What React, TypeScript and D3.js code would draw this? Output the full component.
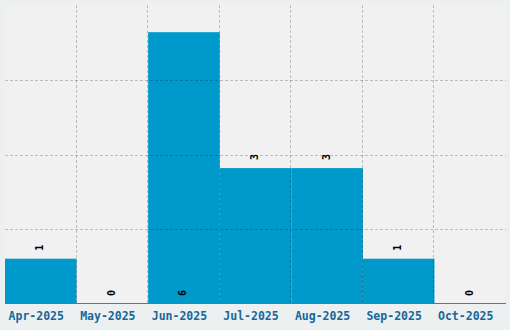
import React from "react";
import * as d3 from "d3";

const categories = ["Apr-2025", "May-2025", "Jun-2025", "Jul-2025", "Aug-2025", "Sep-2025", "Oct-2025"];
const values = [1, 0, 6, 3, 3, 1, 0];

const W = 510;
const H = 330;
const plot = { left: 5, top: 5, right: 506, bottom: 304 };

export default function App() {
  const maxV = d3.max(values) as number;
  const x = d3.scaleBand<string>().domain(categories).range([plot.left, plot.right]).padding(0);
  const y = d3.scaleLinear().domain([0, maxV * 1.1]).range([plot.bottom, plot.top]);
  const yGrid = d3.range(1, 4).map((k) => (maxV * 1.1 * k) / 4);
  const xGrid = categories.slice(1).map((c) => x(c) as number);
  const font = "'DejaVu Sans Mono', monospace";
  const gridStroke = "rgba(0,0,0,0.22)";
  return (
    <svg width={W} height={H} style={{ position: "fixed", left: 0, top: 0 }}>
      <rect x={0} y={0} width={W} height={H} fill="#ecf0f1" />
      <rect x={plot.left} y={plot.top} width={plot.right - plot.left} height={plot.bottom - plot.top} fill="#f1f1f1" />
      {categories.map((c, i) => (
        <rect key={c} x={x(c)} y={y(values[i])} width={x.bandwidth()} height={plot.bottom - y(values[i])} fill="#0099cc" />
      ))}
      <line x1={plot.left} x2={plot.right} y1={plot.bottom - 0.5} y2={plot.bottom - 0.5} stroke="#0099cc" strokeWidth={1} />
      {yGrid.map((g, i) => (
        <line key={"h" + i} x1={plot.left} x2={plot.right} y1={Math.round(y(g)) + 0.5} y2={Math.round(y(g)) + 0.5} stroke={gridStroke} strokeDasharray="3,2" />
      ))}
      {xGrid.map((g, i) => (
        <line key={"v" + i} x1={Math.round(g) - 0.5} x2={Math.round(g) - 0.5} y1={plot.top} y2={plot.bottom} stroke={gridStroke} strokeDasharray="3,2" />
      ))}
      {categories.map((c, i) => {
        const cx = (x(c) as number) + x.bandwidth() / 2;
        const base = values[i] === maxV ? plot.bottom : y(values[i]);
        const ly = base - 8;
        return (
          <text key={"l" + c} transform={`translate(${cx + 2.5},${ly}) rotate(-90)`} fontFamily={font} fontWeight="bold" fontSize={10} fill="#000">
            {values[i]}
          </text>
        );
      })}
      {categories.map((c) => (
        <text key={"t" + c} x={(x(c) as number) + x.bandwidth() / 2 - 4.5} y={319.5} textAnchor="middle" fontFamily={font} fontWeight="bold" fontSize={11.5} fill="#17679b">
          {c}
        </text>
      ))}
    </svg>
  );
}
